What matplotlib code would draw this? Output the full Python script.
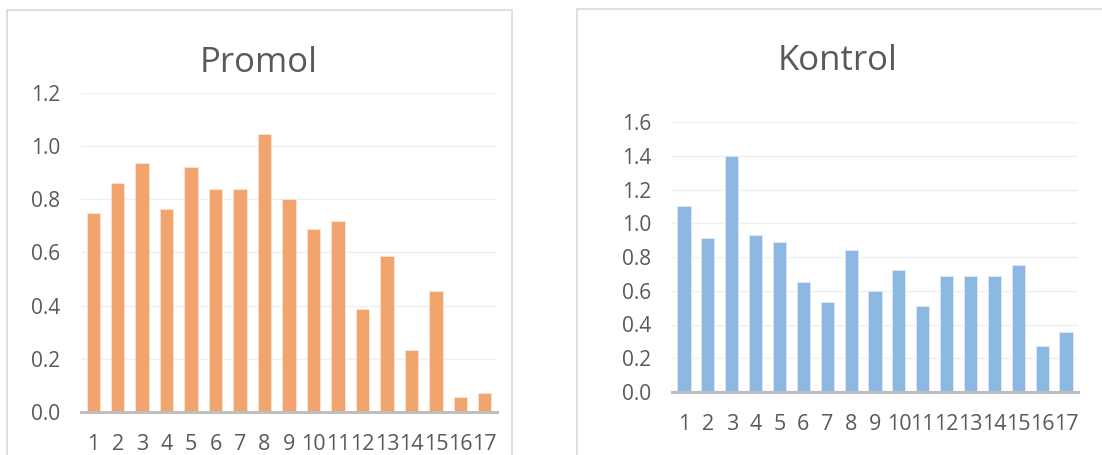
import numpy as np
import matplotlib.pyplot as plt
from matplotlib.patches import Rectangle

# sample numbers 1..17
samples = [str(i) for i in range(1, 18)]
promol = [0.75, 0.86, 0.935, 0.765, 0.92, 0.84, 0.84, 1.045, 0.80, 0.69,
          0.72, 0.388, 0.585, 0.235, 0.455, 0.055, 0.07]
kontrol = [1.10, 0.91, 1.40, 0.93, 0.89, 0.652, 0.531, 0.841, 0.60, 0.721,
           0.512, 0.689, 0.689, 0.689, 0.751, 0.273, 0.354]
promol_ticks = [0.0, 0.2, 0.4, 0.6, 0.8, 1.0, 1.2]
kontrol_ticks = [0.0, 0.2, 0.4, 0.6, 0.8, 1.0, 1.2, 1.4, 1.6]

W, H = 1102, 455
txt = '#595959'
plt.rcParams['font.family'] = ['Open Sans', 'DejaVu Sans']

fig = plt.figure(figsize=(W / 100, H / 100), dpi=100)

# chart frames
fig.patches.append(Rectangle((7 / W, -0.1), 505 / W, 1.1 - 10 / H,
                             transform=fig.transFigure, fill=False,
                             edgecolor='#D9D9D9', linewidth=1.2))
fig.patches.append(Rectangle((577 / W, -0.1), 0.6, 1.1 - 9 / H,
                             transform=fig.transFigure, fill=False,
                             edgecolor='#D9D9D9', linewidth=1.2))


def panel(rect, vals, ticks, color, edge, title, title_xy):
    ax = fig.add_axes(rect)
    x = np.arange(len(vals))
    ax.bar(x, vals, width=0.55, color=color, edgecolor=edge,
           linewidth=0.6, zorder=3)
    ax.set_xlim(-0.5, len(vals) - 0.5)
    ax.set_ylim(ticks[0], ticks[-1])
    ax.set_yticks(ticks)
    ax.set_yticklabels(['%.1f' % t for t in ticks])
    ax.set_xticks(x)
    ax.set_xticklabels(samples)
    ax.grid(axis='y', color='#EFEFEF', linewidth=1.0, zorder=0)
    for s in ['top', 'right', 'left']:
        ax.spines[s].set_visible(False)
    ax.spines['bottom'].set_color('#BFBFBF')
    ax.spines['bottom'].set_linewidth(2.2)
    ax.spines['bottom'].set_zorder(4)
    ax.tick_params(length=0, labelcolor=txt)
    ax.tick_params(axis='x', pad=16, labelsize=15.5)
    ax.tick_params(axis='y', pad=15, labelsize=15)
    fig.text(title_xy[0] / W, 1 - title_xy[1] / H, title, ha='center',
             va='baseline', fontsize=25, color=txt)
    return ax


panel([81 / W, 1 - 412 / H, 416 / W, 319 / H], promol, promol_ticks,
      '#F1A46D', '#FBE3D3', 'Promol', (259, 72))
panel([672 / W, 1 - 392 / H, 406 / W, 270 / H], kontrol, kontrol_ticks,
      '#8CB8E2', '#DCEAF6', 'Kontrol', (838, 70))

fig.savefig('out.png', dpi=100)
